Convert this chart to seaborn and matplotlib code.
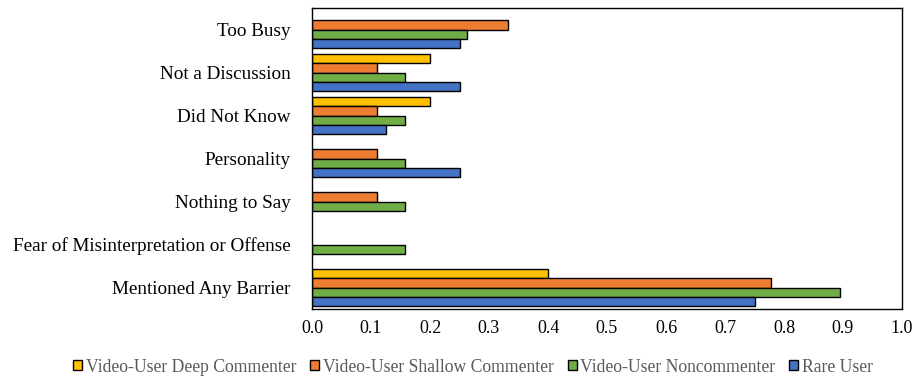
import matplotlib
matplotlib.use("Agg")
import matplotlib.pyplot as plt
import seaborn as sns
import pandas as pd

categories = ["Too Busy", "Not a Discussion", "Did Not Know", "Personality",
              "Nothing to Say", "Fear of Misinterpretation or Offense",
              "Mentioned Any Barrier"]
series = ["Video-User Deep Commenter", "Video-User Shallow Commenter",
          "Video-User Noncommenter", "Rare User"]
deep = [0.0, 0.2, 0.2, 0.0, 0.0, 0.0, 0.4]
shallow = [0.333, 0.111, 0.111, 0.111, 0.111, 0.0, 0.778]
noncommenter = [0.263, 0.158, 0.158, 0.158, 0.158, 0.158, 0.895]
rare = [0.25, 0.25, 0.125, 0.25, 0.0, 0.0, 0.75]
xticks = [0.0, 0.1, 0.2, 0.3, 0.4, 0.5, 0.6, 0.7, 0.8, 0.9, 1.0]
colors = ["#FFC000", "#ED7D31", "#70AD47", "#4472C4"]

rows = []
for name, vals in zip(series, [deep, shallow, noncommenter, rare]):
    for c, v in zip(categories, vals):
        rows.append({"Category": c, "Series": name, "Value": v})
df = pd.DataFrame(rows)

sns.set_style("white")
plt.rcParams["font.family"] = ["Liberation Serif", "DejaVu Serif"]

fig = plt.figure(figsize=(9.19, 3.76), dpi=100)
ax = fig.add_axes([312/919, 1-309/376, (902-312)/919, (309-8)/376])

sns.barplot(data=df, y="Category", x="Value", hue="Series",
            order=categories, hue_order=series, palette=colors,
            orient="h", width=0.88, edgecolor="black", linewidth=1.0,
            errorbar=None, ax=ax, saturation=1)

for p in ax.patches:
    if p.get_width() == 0:
        p.set_linewidth(0)

ax.set_xlim(0, 1.0)
ax.set_xticks(xticks)
ax.set_xticklabels([f"{t:.1f}" for t in xticks])
ax.set_xlabel("")
ax.set_ylabel("")
ax.tick_params(axis="both", length=0, colors="black")
ax.tick_params(axis="y", pad=15.5, labelsize=13.8)
ax.tick_params(axis="x", pad=8, labelsize=13)
for s in ax.spines.values():
    s.set_visible(True)
    s.set_color("black")
    s.set_linewidth(1.0)

handles, labels = ax.get_legend_handles_labels()
ax.legend_.remove()
leg = fig.legend(handles, labels, loc="center", bbox_to_anchor=(473/919, 1-367/376),
                 ncol=4, frameon=False, fontsize=12.7, handlelength=0.5,
                 handleheight=0.5, handletextpad=0.2, columnspacing=0.8)
for t in leg.get_texts():
    t.set_color("#595959")
for h in leg.legend_handles:
    h.set_edgecolor("black")
    h.set_linewidth(1.0)

fig.savefig("out.png", dpi=100)
